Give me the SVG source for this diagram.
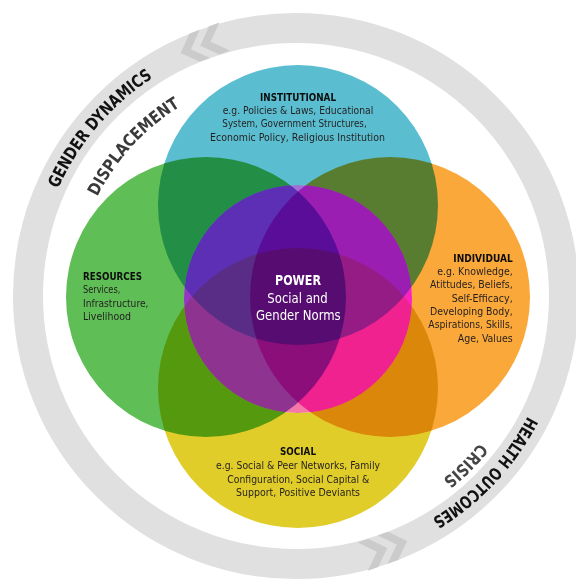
<svg xmlns="http://www.w3.org/2000/svg" width="576" height="581" viewBox="0 0 576 581">
  <style>
    .m { mix-blend-mode: multiply; }
    .lbl { font-family: "Liberation Sans Narrow", "DejaVu Sans Condensed", "Liberation Sans", sans-serif; font-size: 10.8px; fill: #231f20; }
    .ttl { font-weight: 700; fill: #0d0d0d; }
    .pw { fill: #ffffff; font-size: 14px; }
    .arc { font-family: "Liberation Sans Narrow", "DejaVu Sans Condensed", "Liberation Sans", sans-serif; font-weight: 700; font-size: 17px; }
    .chev { fill: #cbcbcb; }
  </style>
  <defs>
    <clipPath id="powerClip"><circle cx="298" cy="299" r="114"/></clipPath>
    <path id="arcGender" d="M 39 250.7 A 261 261 0 0 1 211 49.2"/>
    <path id="arcHealth" d="M 550.3 354.7 A 261 261 0 0 1 372.3 545.6"/>
    <path id="arcDisplace" d="M 79.3 247.6 A 222 222 0 0 1 229.6 84.2"/>
    <path id="arcCrisis" d="M 523 356.8 A 235 235 0 0 1 356.8 523"/>
    <!-- pair of chevrons drawn at angle 0 of the ring, pointing counter-clockwise -->
    <g id="chevPair">
      <polygon class="chev" points="549,288 564,273 579,288 579,299 564,284 549,299"/>
      <polygon class="chev" points="549,309 564,294 579,309 579,320 564,305 549,320"/>
    </g>
  </defs>

  <rect width="576" height="581" fill="#ffffff"/>

  <!-- outer cycle ring -->
  <g id="ring">
    <circle cx="296" cy="296" r="268" fill="none" stroke="#e0e0e0" stroke-width="30"/>
    <use href="#chevPair" transform="rotate(249.5 296 296)"/>
    <use href="#chevPair" transform="rotate(70.5 296 296)"/>
    <text class="arc" fill="#111111"><textPath href="#arcGender" startOffset="50%" text-anchor="middle" textLength="148" lengthAdjust="spacingAndGlyphs">GENDER DYNAMICS</textPath></text>
    <text class="arc" fill="#111111"><textPath href="#arcHealth" startOffset="50%" text-anchor="middle" textLength="142" lengthAdjust="spacingAndGlyphs">HEALTH OUTCOMES</textPath></text>
  </g>

  <g id="context">
    <text class="arc" fill="#3a3a3a" font-size="15.5"><textPath href="#arcDisplace" startOffset="50%" text-anchor="middle" textLength="124" lengthAdjust="spacingAndGlyphs">DISPLACEMENT</textPath></text>
    <text class="arc" fill="#454545" font-size="15.5"><textPath href="#arcCrisis" startOffset="50%" text-anchor="middle" textLength="52" lengthAdjust="spacingAndGlyphs">CRISIS</textPath></text>
  </g>

  <!-- overlapping spheres, multiplied -->
  <g id="spheres" style="isolation:isolate">
    <circle id="institutional" class="m" cx="298" cy="205" r="140" fill="#5bbed0"/>
    <circle id="resources" class="m" cx="206" cy="297" r="140" fill="#5fbe55"/>
    <circle id="individual" class="m" cx="390" cy="297" r="140" fill="#faa83a"/>
    <circle id="social" class="m" cx="298" cy="388" r="140" fill="#e0cd2a"/>
  </g>

  <!-- central power circle with its own tints -->
  <g id="power" clip-path="url(#powerClip)" style="isolation:isolate">
    <circle cx="298" cy="299" r="114" fill="#ff82e6"/>
    <circle class="m" cx="298" cy="205" r="140" fill="#9ed9ed"/>
    <circle class="m" cx="206" cy="297" r="140" fill="#946bd9"/>
    <circle class="m" cx="390" cy="297" r="140" fill="#fa45d6"/>
    <circle class="m" cx="298" cy="388" r="140" fill="#f5ebbd"/>
  </g>

  <g id="labels">
    <g id="institutional-text">
      <text class="lbl ttl" x="260" y="100.7" textLength="76" lengthAdjust="spacingAndGlyphs">INSTITUTIONAL</text>
      <text class="lbl" x="222.7" y="114" textLength="150.6" lengthAdjust="spacingAndGlyphs">e.g. Policies &amp; Laws, Educational</text>
      <text class="lbl" x="222.3" y="127.3" textLength="144.4" lengthAdjust="spacingAndGlyphs">System, Government Structures,</text>
      <text class="lbl" x="210" y="140.7" textLength="175" lengthAdjust="spacingAndGlyphs">Economic Policy, Religious Institution</text>
    </g>
    <g id="resources-text">
      <text class="lbl ttl" x="83" y="280" textLength="59" lengthAdjust="spacingAndGlyphs">RESOURCES</text>
      <text class="lbl" x="83" y="293.3" textLength="37.3" lengthAdjust="spacingAndGlyphs">Services,</text>
      <text class="lbl" x="83" y="306.7" textLength="65.5" lengthAdjust="spacingAndGlyphs">Infrastructure,</text>
      <text class="lbl" x="83" y="320" textLength="48" lengthAdjust="spacingAndGlyphs">Livelihood</text>
    </g>
    <g id="individual-text">
      <text class="lbl ttl" x="453.3" y="261.7" textLength="59.4" lengthAdjust="spacingAndGlyphs">INDIVIDUAL</text>
      <text class="lbl" x="437.3" y="275" textLength="75.4" lengthAdjust="spacingAndGlyphs">e.g. Knowledge,</text>
      <text class="lbl" x="430" y="288.3" textLength="82.7" lengthAdjust="spacingAndGlyphs">Atittudes, Beliefs,</text>
      <text class="lbl" x="451.7" y="301.7" textLength="61" lengthAdjust="spacingAndGlyphs">Self-Efficacy,</text>
      <text class="lbl" x="430" y="315" textLength="82.7" lengthAdjust="spacingAndGlyphs">Developing Body,</text>
      <text class="lbl" x="428.3" y="328.3" textLength="84.4" lengthAdjust="spacingAndGlyphs">Aspirations, Skills,</text>
      <text class="lbl" x="457.7" y="341.7" textLength="55" lengthAdjust="spacingAndGlyphs">Age, Values</text>
    </g>
    <g id="social-text">
      <text class="lbl ttl" x="280" y="455" textLength="36" lengthAdjust="spacingAndGlyphs">SOCIAL</text>
      <text class="lbl" x="216" y="469.3" textLength="164" lengthAdjust="spacingAndGlyphs">e.g. Social &amp; Peer Networks, Family</text>
      <text class="lbl" x="227.3" y="482.5" textLength="142" lengthAdjust="spacingAndGlyphs">Configuration, Social Capital &amp;</text>
      <text class="lbl" x="236" y="495.8" textLength="124" lengthAdjust="spacingAndGlyphs">Support, Positive Deviants</text>
    </g>
    <g id="power-text">
      <text class="lbl ttl pw" x="275" y="285" textLength="46" lengthAdjust="spacingAndGlyphs">POWER</text>
      <text class="lbl pw" x="267.3" y="302.6" textLength="60.4" lengthAdjust="spacingAndGlyphs">Social and</text>
      <text class="lbl pw" x="256" y="320" textLength="84.7" lengthAdjust="spacingAndGlyphs">Gender Norms</text>
    </g>
  </g>
</svg>
